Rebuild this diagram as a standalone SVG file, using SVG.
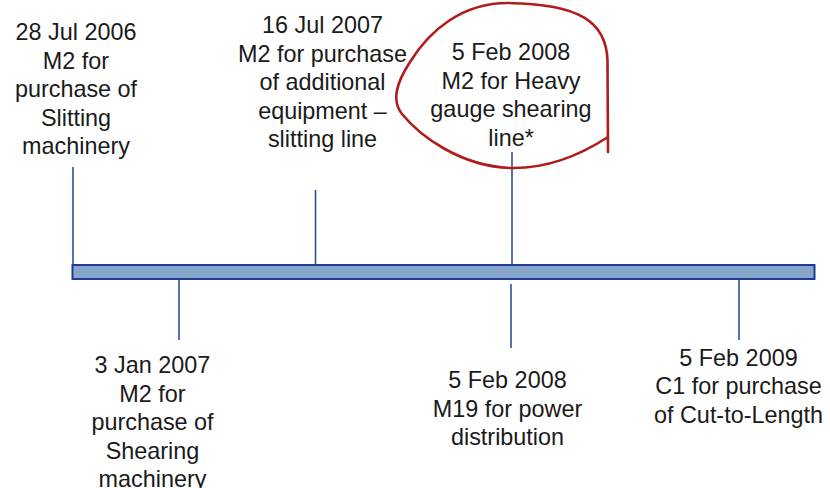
<svg xmlns="http://www.w3.org/2000/svg" width="830" height="488" viewBox="0 0 830 488">
<style>
text{font-family:"Liberation Sans",Arial,sans-serif;font-size:23.4px;fill:#1a1a1a;text-anchor:middle}
.tick{stroke:#2f4f9c;stroke-width:1.6;fill:none}
.bar{fill:#88a6cc;stroke:#1f3d8e;stroke-width:2}
.loop{fill:none;stroke:#b01c1c;stroke-width:2.6;stroke-linecap:round;stroke-linejoin:round}
</style>
<g id="connectors">
<line class="tick" x1="73" y1="167" x2="73" y2="266"/>
<line class="tick" x1="315.5" y1="190" x2="315.5" y2="266"/>
<line class="tick" x1="512" y1="152" x2="512" y2="266"/>
<line class="tick" x1="179" y1="279" x2="179" y2="340"/>
<line class="tick" x1="511" y1="284" x2="511" y2="348"/>
<line class="tick" x1="739" y1="279" x2="739" y2="340"/>
</g>
<g id="timeline">
<rect class="bar" x="72.5" y="265" width="742" height="14"/>
</g>
<g id="n2006">
<text x="76" y="40">28 Jul 2006</text>
<text x="76" y="68.5">M2 for</text>
<text x="76" y="97">purchase of</text>
<text x="76" y="125.5">Slitting</text>
<text x="76" y="154">machinery</text>
</g>
<g id="n2007jul">
<text x="322.5" y="33">16 Jul 2007</text>
<text x="322.5" y="61.5">M2 for purchase</text>
<text x="322.5" y="90">of additional</text>
<text x="322.5" y="118.5">equipment –</text>
<text x="322.5" y="147">slitting line</text>
</g>
<g id="n2008top">
<text x="511" y="60">5 Feb 2008</text>
<text x="511" y="88.5">M2 for Heavy</text>
<text x="511" y="117">gauge shearing</text>
<text x="511" y="145.5">line*</text>
<path class="loop" d="M608,152 L607.5,60 C606,22 580,4 508,3 C462,3 430,30 410,62 C397,82 391,100 402,114 C420,136 460,166 510,168 C550,169 585,152 608,137"/>
</g>
<g id="n2007jan">
<text x="152.5" y="373">3 Jan 2007</text>
<text x="152.5" y="401.5">M2 for</text>
<text x="152.5" y="430">purchase of</text>
<text x="152.5" y="458.5">Shearing</text>
<text x="152.5" y="487">machinery</text>
</g>
<g id="n2008bottom">
<text x="507.5" y="388">5 Feb 2008</text>
<text x="507.5" y="416.5">M19 for power</text>
<text x="507.5" y="445">distribution</text>
</g>
<g id="n2009">
<text x="738.5" y="365.5">5 Feb 2009</text>
<text x="738.5" y="394">C1 for purchase</text>
<text x="738.5" y="422.5">of Cut-to-Length</text>
</g>
</svg>
